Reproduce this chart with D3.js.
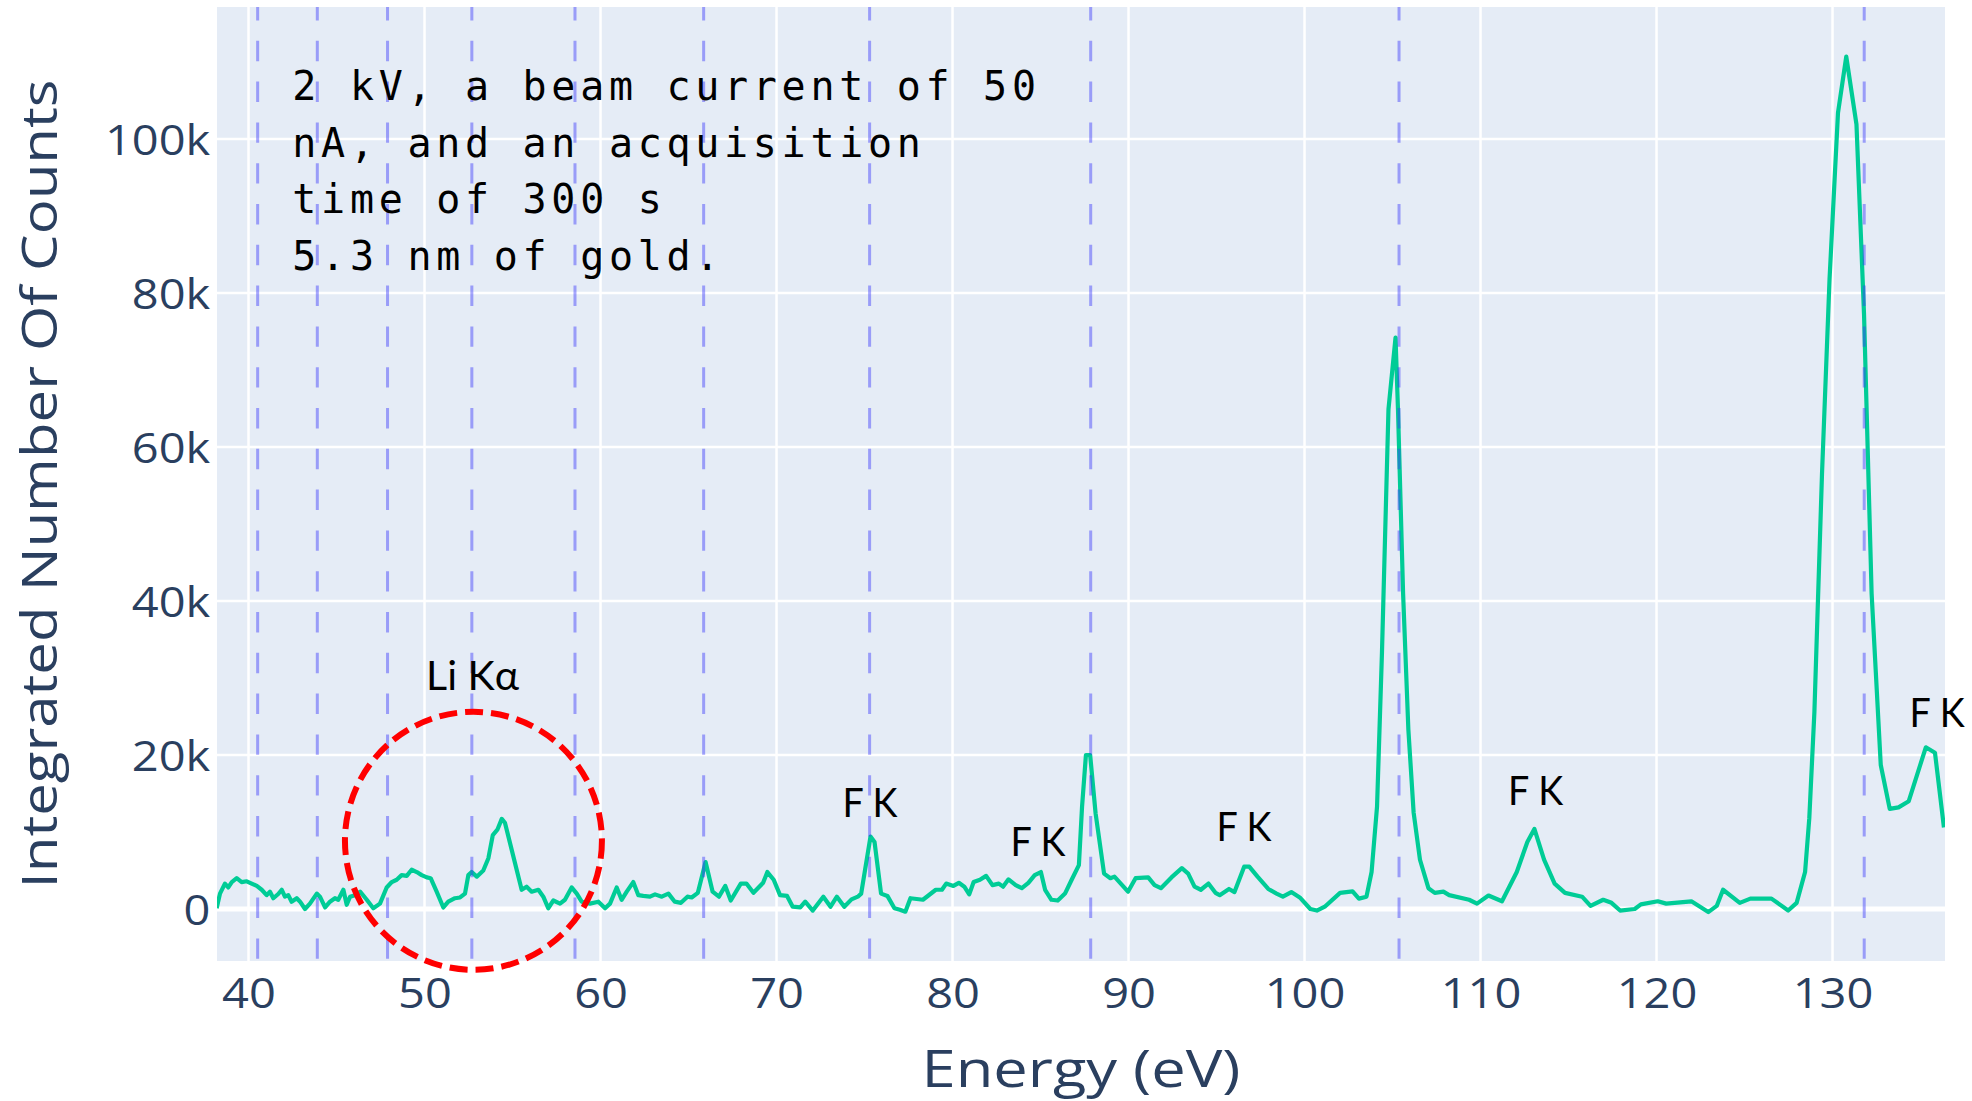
<!DOCTYPE html>
<html>
<head>
<meta charset="utf-8">
<script src="https://cdn.jsdelivr.net/npm/d3@7"></script>
<style>
  html, body { margin: 0; padding: 0; background: #ffffff; }
  svg { display: block; }
</style>
</head>
<body>
<svg id="chart" width="1972" height="1101"></svg>
<script>
// ---------------- data ----------------
const energies = [
  38.19, 38.38, 38.66, 38.85, 39.05, 39.33, 39.61, 39.90, 40.18, 40.47,
  40.75, 41.03, 41.22, 41.41, 41.69, 41.89, 42.07, 42.26, 42.45, 42.74,
  42.93, 43.21, 43.49, 43.88, 44.06, 44.35, 44.63, 44.91, 45.10, 45.39,
  45.58, 45.77, 46.05, 46.34, 46.72, 47.09, 47.47, 47.85, 48.14, 48.42,
  48.70, 48.99, 49.27, 49.56, 49.84, 50.13, 50.35, 50.69, 51.07, 51.35,
  51.73, 52.02, 52.30, 52.49, 52.68, 52.97, 53.34, 53.63, 53.88, 54.14,
  54.39, 54.57, 55.52, 55.80, 56.09, 56.47, 56.75, 57.03, 57.32, 57.70,
  57.98, 58.36, 58.65, 58.93, 59.40, 59.88, 60.26, 60.54, 60.92, 61.20,
  61.49, 61.86, 62.15, 62.43, 62.81, 63.10, 63.48, 63.86, 64.22, 64.57,
  64.94, 65.18, 65.53, 65.97, 66.37, 66.73, 67.09, 67.40, 67.97, 68.29,
  68.69, 69.24, 69.48, 69.84, 70.20, 70.60, 70.92, 71.35, 71.63, 72.06,
  72.66, 73.07, 73.43, 73.85, 74.26, 74.62, 74.81, 75.34, 75.57, 75.94,
  76.30, 76.70, 77.01, 77.32, 77.61, 78.32, 79.05, 79.40, 79.64, 80.05,
  80.36, 80.67, 80.95, 81.20, 81.56, 81.91, 82.27, 82.63, 82.87, 83.18,
  83.59, 83.94, 84.31, 84.67, 85.02, 85.26, 85.62, 85.98, 86.39, 86.77,
  87.18, 87.36, 87.58, 87.82, 88.13, 88.61, 88.97, 89.20, 89.56, 89.97,
  90.40, 91.12, 91.48, 91.84, 92.44, 93.03, 93.39, 93.75, 94.11, 94.54,
  94.94, 95.18, 95.71, 96.02, 96.57, 96.86, 97.33, 97.94, 98.41, 98.77,
  99.25, 99.73, 100.33, 100.70, 101.18, 102.02, 102.73, 103.09, 103.52, 103.81,
  104.12, 104.40, 104.77, 105.17, 105.31, 105.60, 105.90, 106.20, 106.56, 107.04,
  107.40, 107.89, 108.22, 109.35, 109.80, 110.45, 111.22, 112.06, 112.66, 113.06,
  113.61, 114.21, 114.80, 115.77, 116.25, 116.97, 117.44, 117.93, 118.76, 119.11,
  120.07, 120.55, 121.98, 122.94, 123.42, 123.78, 124.73, 125.33, 126.53, 127.48,
  127.96, 128.44, 128.68, 128.97, 129.40, 129.83, 130.31, 130.78, 131.36, 131.79,
  132.22, 132.74, 133.25, 133.75, 134.33, 135.30, 135.82, 136.33
];
const counts = [
  100, 2000, 3300, 2800, 3500, 4000, 3500, 3600, 3300, 3000,
  2500, 1800, 2250, 1400, 1950, 2500, 1600, 1800, 950, 1400,
  950, 0, 700, 2000, 1600, 200, 950, 1400, 1200, 2500,
  550, 1600, 1800, 2250, 1200, 100, 700, 2800, 3500, 3800,
  4400, 4300, 5100, 4800, 4400, 4100, 4000, 2250, 200, 950,
  1400, 1500, 2000, 4400, 4800, 4200, 5000, 6600, 9600, 10300,
  11700, 11200, 2500, 2900, 2250, 2500, 1600, 100, 1100, 700,
  1200, 2800, 2000, 950, 700, 950, 100, 700, 2800, 1200,
  2250, 3500, 1800, 1700, 1600, 1900, 1600, 2000, 950, 800,
  1600, 1500, 2100, 6100, 2250, 1600, 3000, 1100, 3300, 3300,
  2100, 3400, 4800, 3800, 1800, 1700, 300, 200, 950, -200,
  1600, 300, 1600, 300, 1250, 1600, 2000, 9400, 8700, 2000,
  1700, 100, -100, -350, 1400, 1200, 2500, 2500, 3300, 3000,
  3400, 2900, 1900, 3500, 3800, 4300, 3100, 3300, 2900, 3850,
  3100, 2700, 3400, 4400, 4800, 2500, 1200, 1100, 2000, 3800,
  5700, 13300, 20000, 20000, 12400, 4600, 4000, 4200, 3300, 2250,
  4000, 4100, 3100, 2700, 4100, 5300, 4600, 2900, 2500, 3300,
  2100, 1800, 2600, 2200, 5500, 5500, 4200, 2600, 2000, 1600,
  2200, 1500, 0, -200, 350, 2100, 2300, 1350, 1600, 4800,
  13300, 33300, 64900, 74200, 64900, 41000, 23300, 12500, 6400, 2700,
  2100, 2250, 1800, 1200, 700, 1750, 1000, 4800, 8700, 10400,
  6400, 3300, 2100, 1600, 400, 1200, 800, -200, 0, 600,
  1000, 700, 1000, -400, 400, 2500, 800, 1350, 1350, -200,
  800, 4800, 11800, 25600, 56400, 81800, 103400, 110700, 101900, 77200,
  41000, 18700, 13000, 13200, 14000, 21000, 20300, 10600
];

const xTicks = [40, 50, 60, 70, 80, 90, 100, 110, 120, 130];
const yTicks = [0, 20000, 40000, 60000, 80000, 100000];
const yTickLabels = ["0", "20k", "40k", "60k", "80k", "100k"];

const markerLines = [40.52, 43.91, 47.90, 52.69, 58.55, 65.86, 75.29, 87.85, 105.37, 131.80];

const peakLabels = ["Li K\u03b1", "F K", "F K", "F K", "F K", "F K"];
const peakLabelEnergies = [52.73, 75.31, 84.86, 96.56, 113.13, 135.94];
const peakLabelCounts = [28440, 11950, 6880, 8830, 13510, 23640];

const noteLines = [
  "2 kV, a beam current of 50",
  "nA, and an acquisition",
  "time of 300 s",
  "5.3 nm of gold."
];
const noteAnchorEnergy = 42.49;
const noteAnchorCount = 105060;

const circleCenter = [52.78, 8857];
const circleRadius = [7.3, 16750];

const xTitle = "Energy (eV)";
const yTitle = "Integrated Number Of Counts";

// ---------------- layout ----------------
const W = 1972, H = 1101;
const plot = { left: 217, right: 1945, top: 7, bottom: 961 };
const x = d3.scaleLinear().domain([38.21, 136.39]).range([plot.left, plot.right]);
const y = d3.scaleLinear().domain([-6753, 117143]).range([plot.bottom, plot.top]);

const svg = d3.select("#chart");
svg.append("rect").attr("width", W).attr("height", H).attr("fill", "#ffffff");

svg.append("defs").append("clipPath").attr("id", "plotclip")
  .append("rect")
  .attr("x", plot.left).attr("y", plot.top)
  .attr("width", plot.right - plot.left).attr("height", plot.bottom - plot.top);

// background
svg.append("rect")
  .attr("x", plot.left).attr("y", plot.top)
  .attr("width", plot.right - plot.left).attr("height", plot.bottom - plot.top)
  .attr("fill", "#E5ECF6");

// grid
const grid = svg.append("g");
grid.selectAll("line.vx").data(xTicks).join("line")
  .attr("x1", d => x(d)).attr("x2", d => x(d))
  .attr("y1", plot.top).attr("y2", plot.bottom)
  .attr("stroke", "#ffffff").attr("stroke-width", 2.5);
grid.selectAll("line.hy").data(yTicks).join("line")
  .attr("x1", plot.left).attr("x2", plot.right)
  .attr("y1", d => y(d)).attr("y2", d => y(d))
  .attr("stroke", "#ffffff").attr("stroke-width", d => d === 0 ? 5 : 2.5);

// axes (labels only)
const axisFont = "'Open Sans', 'Noto Sans', sans-serif";
const xAxis = svg.append("g")
  .attr("transform", `translate(0,${plot.bottom})`)
  .call(d3.axisBottom(x).tickValues(xTicks).tickSize(0).tickPadding(0).tickFormat(d3.format("d")));
xAxis.select(".domain").remove();
xAxis.selectAll("text")
  .attr("dy", null)
  .attr("y", 47)
  .attr("transform", "scale(1.12,1)")
  .attr("fill", "#2a3f5f")
  .style("font-family", axisFont)
  .style("font-size", "42px");

const yAxis = svg.append("g")
  .attr("transform", `translate(${plot.left},0)`)
  .call(d3.axisLeft(y).tickValues(yTicks).tickSize(0).tickPadding(0)
    .tickFormat((d, i) => yTickLabels[i]));
yAxis.select(".domain").remove();
yAxis.selectAll("text")
  .attr("dy", null)
  .attr("x", -6)
  .attr("y", 15)
  .attr("transform", "scale(1.12,1)")
  .attr("text-anchor", "end")
  .attr("fill", "#2a3f5f")
  .style("font-family", axisFont)
  .style("font-size", "42px");

// axis titles
svg.append("text")
  .attr("x", (plot.left + plot.right) / 2)
  .attr("y", 1087)
  .attr("text-anchor", "middle")
  .attr("fill", "#2a3f5f")
  .attr("textLength", 319)
  .attr("lengthAdjust", "spacingAndGlyphs")
  .style("font-family", axisFont)
  .style("font-size", "52px")
  .text(xTitle);

svg.append("text")
  .attr("transform", `translate(57,${(plot.top + plot.bottom) / 2}) rotate(-90)`)
  .attr("text-anchor", "middle")
  .attr("fill", "#2a3f5f")
  .attr("textLength", 809)
  .attr("lengthAdjust", "spacingAndGlyphs")
  .style("font-family", axisFont)
  .style("font-size", "50px")
  .text(yTitle);

// spectrum line
const pts = energies.map((e, i) => [e, counts[i]]);
svg.append("path")
  .datum(pts)
  .attr("clip-path", "url(#plotclip)")
  .attr("fill", "none")
  .attr("stroke", "#00CC96")
  .attr("stroke-width", 4.2)
  .attr("stroke-linejoin", "round")
  .attr("d", d3.line().x(d => x(d[0])).y(d => y(d[1])));

// dashed marker lines
svg.append("g").selectAll("line").data(markerLines).join("line")
  .attr("x1", d => x(d)).attr("x2", d => x(d))
  .attr("y1", plot.top).attr("y2", plot.bottom)
  .attr("stroke", "rgba(60,60,250,0.45)")
  .attr("stroke-width", 3)
  .attr("stroke-dasharray", "20.4,20.4")
  .attr("stroke-dashoffset", plot.top);

// red dashed circle
svg.append("ellipse")
  .attr("cx", x(circleCenter[0]))
  .attr("cy", y(circleCenter[1]))
  .attr("rx", x(circleCenter[0] + circleRadius[0]) - x(circleCenter[0]))
  .attr("ry", y(circleCenter[1]) - y(circleCenter[1] + circleRadius[1]))
  .attr("fill", "none")
  .attr("stroke", "#ff0000")
  .attr("stroke-width", 6)
  .attr("stroke-dasharray", "18,8");

// peak labels
const labelWidths = [93, 55, 55, 55, 55, 55];
svg.append("g").selectAll("text").data(peakLabels).join("text")
  .attr("x", (d, i) => x(peakLabelEnergies[i]))
  .attr("y", (d, i) => y(peakLabelCounts[i]))
  .attr("text-anchor", "middle")
  .attr("fill", "#000000")
  .attr("textLength", (d, i) => labelWidths[i])
  .attr("lengthAdjust", "spacingAndGlyphs")
  .style("font-family", "Lato, 'Open Sans', sans-serif")
  .style("font-size", "40px")
  .text(d => d);

// note block
const note = svg.append("text")
  .attr("x", x(noteAnchorEnergy))
  .attr("y", y(noteAnchorCount))
  .attr("fill", "#000000")
  .style("font-family", "'DejaVu Sans Mono', 'Liberation Mono', monospace")
  .style("font-size", "40px")
  .style("letter-spacing", "4.7px");
note.selectAll("tspan").data(noteLines).join("tspan")
  .attr("x", x(noteAnchorEnergy))
  .attr("dy", (d, i) => i === 0 ? 0 : 56.7)
  .text(d => d);
</script>
</body>
</html>
